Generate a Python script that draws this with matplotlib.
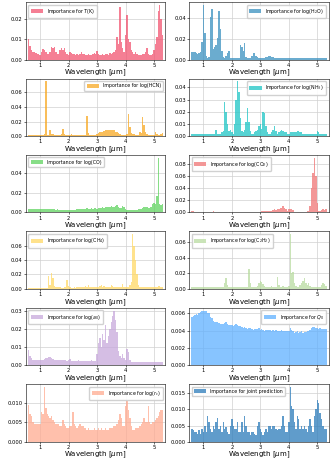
import numpy as np
import matplotlib
matplotlib.use("Agg")
import matplotlib.pyplot as plt

# bin centres 0.60 .. 5.30 um, 0.05 um step (95 bins)
wavelength = np.round(np.linspace(0.60, 5.30, 95), 2)

# importance values, in units of 1e-3
imp_T = [10, 7, 5, 4, 4, 3.5, 3, 3, 2.5, 4,
         5.5, 5, 4, 3, 3, 4, 6.5, 6, 6.5, 4,
         3, 3, 5, 6, 5, 6, 4, 3, 2.5, 4,
         3.5, 3, 3, 2.5, 3, 2.5, 3, 4, 3, 3,
         2.5, 2.5, 3, 2.5, 2.5, 3, 3.5, 3, 4.5, 3,
         2.5, 2.5, 3, 2.5, 3, 3, 2.5, 3.5, 3, 3.5,
         4, 5, 11, 8, 26, 9, 6, 4, 12, 22,
         10, 9, 5, 4, 3, 4, 3, 2.5, 2.5, 2.5,
         3, 3, 4, 6, 3, 2.5, 2.5, 3, 5, 8,
         11, 24, 27, 20, 12]
imp_H2O = [7, 7, 7, 6, 5, 6, 7, 17, 52, 25,
           4, 2, 3, 41, 48, 10, 12, 14, 21, 46,
           29, 8, 3, 2, 4, 6, 8, 2, 1.5, 1.5,
           1.5, 1.5, 2, 2, 14, 12, 8, 16, 3, 2,
           1.5, 2, 4, 6, 6, 4, 3, 2, 2, 2,
           2, 2, 3, 3, 4, 4, 3, 3, 2, 2,
           1.5, 1.5, 2, 1.5, 1.5, 2, 1.5, 1.5, 1.5, 1.5,
           1.5, 1.5, 1.5, 1.5, 1.5, 1.5, 1.5, 1.5, 1.5, 1.5,
           1.5, 1.5, 1.5, 2, 1.5, 1.5, 1.5, 1.5, 1.5, 1.5,
           1.5, 1.5, 1.5, 1.5, 1.5]
imp_HCN = [1.5, 1.5, 1.5, 1.5, 1.5, 1.5, 1.5, 1.5, 1.5, 1.5,
           1.5, 3, 75, 2, 2, 9, 3, 3, 2, 1.5,
           1.5, 1.5, 1.5, 3, 10, 3, 1.5, 1.5, 1.5, 2,
           3, 2, 1.5, 1.5, 1.5, 1.5, 1.5, 1.5, 1.5, 1.5,
           2, 28, 4, 2, 1.5, 1.5, 1.5, 1.5, 3, 4,
           5, 5, 6, 7, 8, 8, 9, 9, 8, 9,
           8, 6, 5, 4, 3, 2, 2, 2, 2, 3,
           31, 12, 4, 3, 3, 2, 2, 2, 5, 4,
           26, 15, 5, 3, 2, 2, 2, 2, 2, 6,
           3, 2, 2, 3, 4]
imp_NH3 = [1.5, 1.5, 1.5, 1.5, 1.5, 1.5, 1.5, 1.5, 1.5, 1.5,
           1.5, 1.5, 2, 1.5, 2, 2, 2, 5, 2, 2,
           2, 3, 4, 28, 20, 10, 4, 5, 3, 2,
           10, 30, 45, 36, 15, 4, 3, 5, 12, 23,
           12, 4, 2, 2, 3, 4, 5, 8, 10, 6,
           20, 19, 8, 3, 2, 2, 3, 5, 8, 4,
           2, 3, 4, 5, 4, 3, 3, 2, 2, 3,
           3, 3, 3, 3, 4, 4, 3, 3, 2, 2,
           2, 2, 2, 2, 2, 2, 2, 2, 4, 3,
           2, 2, 2, 2, 2]
imp_CO = [4, 4, 4, 4, 4, 4, 4, 4, 4, 4,
          4, 4, 4, 3.5, 4, 3.5, 3.5, 3.5, 3.5, 3,
          3.5, 3, 3, 3, 3, 3, 3, 3, 3, 3,
          3, 3, 3, 3, 3.5, 3.5, 3.5, 4, 3.5, 3.5,
          4, 4.5, 4, 4, 4.5, 4, 5, 4.5, 4, 4.5,
          5, 5, 5.5, 5, 6, 5.5, 6, 6, 6.5, 5.5,
          6, 7, 8, 6, 5, 5, 7, 6, 4, 3,
          3, 3, 3, 3, 3, 3, 3, 3.5, 4, 3.5,
          5, 6, 5.5, 6, 5, 5, 6, 9, 10, 9,
          17, 55, 9, 8, 9]
imp_CO2 = [2, 2, 1.5, 1, 1, 1, 1, 1, 1, 1,
           1, 1, 1, 1, 1, 2, 1, 1, 1, 1,
           1, 1, 1, 1, 1, 1, 1, 1, 1, 1,
           1, 1, 1, 1, 1, 1, 1, 1, 1, 1,
           1, 1, 1, 1, 1, 1, 1, 1, 1.5, 2,
           2, 2.5, 2, 3, 2.5, 3, 3, 4, 5, 4,
           5, 6, 7, 8, 10, 8, 6, 3, 5, 6,
           6, 4, 1.5, 1.5, 1.5, 1.5, 1.5, 1.5, 1.5, 1.5,
           1.5, 2, 3, 10, 40, 65, 90, 60, 15, 3,
           2, 4, 5, 4, 5]
imp_CH4 = [1, 1, 1, 1, 1, 1, 1, 1, 1, 1,
           1, 1, 1, 1, 18, 5, 22, 15, 4, 2,
           2, 3, 2, 1.5, 1.5, 2, 2, 13, 4, 2,
           1.5, 1.5, 2, 1.5, 3, 2, 2, 2, 2, 3,
           4, 2, 6, 3, 2, 2, 2, 3, 2, 2,
           4, 5, 3, 4, 3, 2, 3, 3, 6, 4,
           3, 2, 2, 2, 3, 3, 7, 3, 2, 3,
           3, 5, 10, 76, 60, 40, 20, 6, 2, 2,
           3, 2, 3, 2, 2, 2, 2, 2, 2, 2,
           3, 4, 4, 3, 2]
imp_C2H2 = [2, 2, 2, 2, 2, 2, 2, 2, 2, 2,
            2, 2, 2, 2, 2, 2, 2, 2, 2, 2,
            2, 2, 3, 8, 14, 5, 2, 2, 2, 2,
            2, 2, 2, 2, 2, 2, 2, 2, 3, 3,
            26, 8, 3, 2, 3, 3, 4, 8, 10, 9,
            6, 4, 3, 3, 3, 3, 4, 3, 3, 3,
            15, 5, 3, 3, 4, 3, 3, 3, 4, 70,
            20, 22, 8, 4, 3, 3, 5, 7, 10, 14,
            8, 5, 7, 4, 3, 3, 2, 2, 3, 3,
            3, 5, 7, 6, 4]
imp_a0 = [8.5, 5, 4, 3, 3, 3, 3, 3, 3, 3,
          3, 3.5, 4, 4, 4.5, 4.5, 4, 3.5, 3, 3,
          3, 3, 3, 3, 3, 3, 3, 2.5, 3, 3.5,
          2.5, 2.5, 2.5, 2.5, 2.5, 3, 2.5, 2.5, 2.5, 2.5,
          2.5, 2.5, 2.5, 2.5, 3, 2.5, 2.5, 2.5, 6, 12,
          15, 10, 17, 14, 22, 12, 16, 20, 24, 27,
          30, 25, 18, 8, 5, 4, 6, 4, 3, 9,
          7, 3, 2, 2, 2, 2, 2, 2, 2, 2,
          2, 2, 2, 2, 2, 2, 2, 2, 2, 2,
          2, 2, 2, 2, 2]
imp_Q0 = [5.6, 5.7, 5.8, 5.9, 5.8, 6.0, 6.1, 6.2, 6.3, 6.2,
          6.3, 6.0, 6.0, 5.6, 5.5, 5.1, 5.0, 5.0, 5.0, 4.9,
          4.8, 4.8, 4.8, 4.9, 5.0, 4.8, 4.6, 4.6, 4.6, 4.5,
          4.6, 4.7, 4.6, 4.5, 4.5, 4.4, 4.3, 4.4, 4.3, 4.2,
          4.3, 4.3, 4.2, 4.1, 4.2, 4.2, 4.2, 4.3, 4.1, 4.2,
          4.1, 4.0, 4.1, 4.1, 4.1, 4.1, 4.0, 4.1, 4.0, 4.1,
          4.0, 4.0, 4.0, 4.1, 4.0, 4.0, 4.0, 3.9, 4.0, 4.3,
          4.1, 3.9, 3.7, 3.8, 4.0, 3.7, 3.8, 3.9, 3.7, 3.8,
          3.8, 4.0, 4.0, 4.1, 4.3, 4.4, 4.4, 4.3, 4.3, 4.2,
          4.3, 4.2, 4.2, 4.2, 4.2]
imp_rc = [9.5, 7, 6.5, 5, 4.5, 4.5, 4.5, 4.5, 4.5, 7.5,
          7, 14, 8.5, 7, 6.5, 6, 6.5, 5.5, 5, 4.5,
          4.5, 4.5, 4, 4, 5.5, 4.5, 4, 3.5, 3.5, 4,
          4, 7.5, 4.5, 4, 3.5, 4, 4.5, 4, 4, 3.5,
          3.5, 3, 3.5, 3, 3, 3, 3.5, 3, 3, 3.5,
          3, 3.5, 3, 3, 3.5, 3, 3, 3.5, 3.5, 3.5,
          4, 4, 4.5, 5.5, 7, 6, 4, 4, 9, 10.5,
          8, 6, 4, 3, 3, 3.5, 3.5, 3.5, 4, 4.5,
          5, 6, 5, 5, 9, 5, 4.5, 5, 5, 5.5,
          6, 6.5, 7.5, 8, 8]
imp_joint = [4, 3.5, 3, 3, 2.5, 3.5, 2.5, 4, 3, 5,
             3, 8, 6, 4, 3, 5, 4, 6, 7.5, 4,
             5, 3, 6, 4, 4.5, 3, 2.5, 5, 7, 5,
             4, 4, 6, 3, 3, 6, 3, 8, 5, 3,
             3, 2, 3, 3, 2.5, 2, 5, 6, 4, 3,
             2, 3, 4, 3, 5, 5, 4, 5, 5, 4,
             3.5, 4, 4, 5, 8, 5, 3, 3, 6, 17,
             11, 10, 6, 4, 8, 7, 4, 5, 4, 5,
             4, 3, 5, 7, 5, 3, 8, 10, 13, 12,
             9, 7, 5, 4, 4]

labels = [r"Importance for $T$(K)", r"Importance for log(H$_2$O)",
          "Importance for log(HCN)", r"Importance for log(NH$_3$)",
          "Importance for log(CO)", r"Importance for log(CO$_2$)",
          r"Importance for log(CH$_4$)", r"Importance for log(C$_2$H$_2$)",
          r"Importance for log($a_0$)", r"Importance for $Q_0$",
          r"Importance for log($r_c$)", "Importance for joint prediction"]
series = [imp_T, imp_H2O, imp_HCN, imp_NH3, imp_CO, imp_CO2,
          imp_CH4, imp_C2H2, imp_a0, imp_Q0, imp_rc, imp_joint]
colors = ["#f25470", "#3a90c0", "#f7a823", "#1ec5c5", "#5fd35f", "#f07575",
          "#ffd966", "#b9dca0", "#c7a8dc", "#5fb0ff", "#ffab91", "#2b7bba"]
legend_loc = ["upper left", "upper right", "upper right", "upper right",
              "upper left", "upper left", "upper left", "upper left",
              "upper left", "upper right", "upper right", "upper left"]

fig, axes = plt.subplots(6, 2, figsize=(3.32, 4.61), dpi=100)
fig.subplots_adjust(left=0.078, right=0.99, top=0.995, bottom=0.042,
                    wspace=0.17, hspace=0.33)

for ax, vals, lab, col, loc in zip(axes.flat, series, labels, colors, legend_loc):
    assert len(vals) == len(wavelength)
    ax.bar(wavelength, np.array(vals) * 1e-3, width=0.05, color=col,
           alpha=0.75, linewidth=0, label=lab)
    ax.set_xlim(0.5, 5.4)
    ax.set_xticks([1, 2, 3, 4, 5])
    ax.grid(True, color="#d0d0d0", linewidth=0.5)
    ax.set_axisbelow(True)
    ax.tick_params(labelsize=3.8, length=1.5, width=0.4, pad=0.8)
    for s in ax.spines.values():
        s.set_linewidth(0.4)
    ax.set_xlabel(r"Wavelength [$\mu$m]", fontsize=5, labelpad=0)
    ax.legend(loc=loc, fontsize=3.4, handlelength=2.6, handleheight=0.9,
              borderpad=0.5, framealpha=0.9, edgecolor="#cccccc")

fig.savefig("out.png", dpi=100)
